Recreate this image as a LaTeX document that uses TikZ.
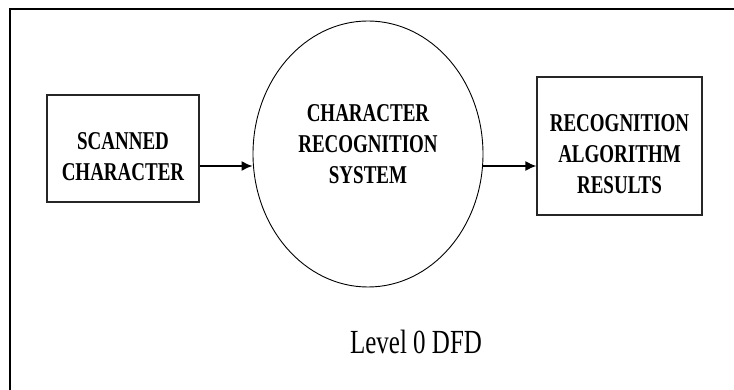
\documentclass[tikz,border=0pt]{standalone}
\usepackage{fontspec}
\usepackage{graphicx}
\setmainfont{Liberation Serif}
\usetikzlibrary{arrows.meta,shapes.geometric}

% tall, narrow lettering of the scanned figure
\newcommand{\tallbox}[1]{\scalebox{1}[1.35]{\begin{tabular}{@{}c@{}}#1\end{tabular}}}

\tikzset{
  entity/.style={draw=black!85, line width=1.3pt, inner sep=0pt},
  process/.style={ellipse, draw, line width=0.9pt, inner sep=0pt},
  lbl/.style={font=\fontsize{19}{23}\selectfont\bfseries, inner sep=0pt},
  flow/.style={-{Latex[length=11pt,width=10pt]}, line width=1.5pt}
}

\begin{document}
\begin{tikzpicture}[x=1pt,y=-1pt]
                \useasboundingbox (0,0) rectangle (734,390);
                \clip (0,0) rectangle (734,390);
                \fill[white] (0,0) rectangle (734,390);
                \draw[line width=2pt] (10,400) -- (10,9) -- (745,9);

                \node[entity, minimum width=152pt, minimum height=107pt] (scan) at (123,148.5) {};
                \node[process, minimum width=230pt, minimum height=266pt] (crs) at (368,154) {};
                \node[entity, minimum width=165pt, minimum height=138pt] (res) at (619.5,146) {};

                \node[lbl] (scantxt) at (123,159) {\tallbox{SCANNED\\CHARACTER}};
                \node[lbl] (crstxt) at (368,146) {\tallbox{CHARACTER\\RECOGNITION\\SYSTEM}};
                \node[lbl] (restxt) at (619.5,156) {\tallbox{RECOGNITION\\ALGORITHM\\RESULTS}};

                \draw[flow] ([yshift=-17.5pt]scan.east) -- ([yshift=-12pt]crs.west);
                \draw[flow] ([yshift=-12pt]crs.east) -- ([yshift=-20pt]res.west);

                \node[font=\fontsize{25}{30}\selectfont, inner sep=0pt] (level) at (416,342) {\scalebox{1}[1.35]{Level 0 DFD}};
            \end{tikzpicture}
\end{document}
